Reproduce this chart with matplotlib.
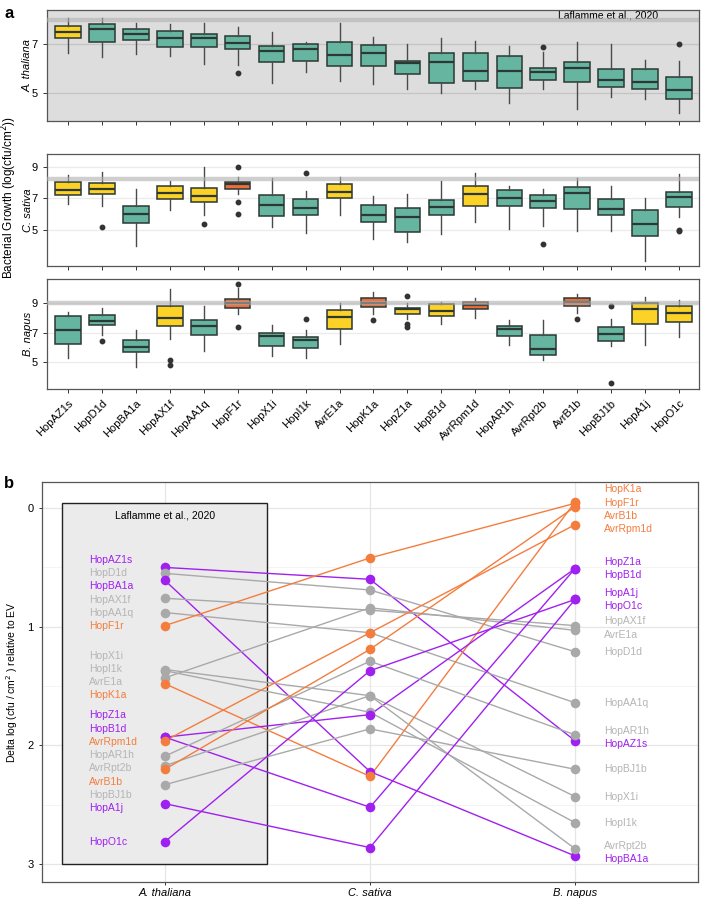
import matplotlib
matplotlib.use('Agg')
import matplotlib.pyplot as plt
from matplotlib.patches import Rectangle

plt.rcParams['font.family'] = ['Liberation Sans', 'DejaVu Sans']

effectors = ['HopAZ1s', 'HopD1d', 'HopBA1a', 'HopAX1f', 'HopAA1q', 'HopF1r', 'HopX1i',
             'HopI1k', 'AvrE1a', 'HopK1a', 'HopZ1a', 'HopB1d', 'AvrRpm1d', 'HopAR1h',
             'AvrRpt2b', 'AvrB1b', 'HopBJ1b', 'HopA1j', 'HopO1c']
hosts = ['A. thaliana', 'C. sativa', 'B. napus']

# EV growth reference per host
ev_growth = [8.0, 8.22, 9.0]

# A. thaliana boxes
at_whi = [8.07, 8.07, 7.89, 7.83, 7.89, 7.70, 7.49, 7.11, 7.86, 7.29, 7.00, 7.27, 7.14, 6.93, 6.67, 7.08, 7.00, 6.34, 6.30]
at_q3 = [7.75, 7.83, 7.62, 7.56, 7.44, 7.33, 6.93, 7.00, 7.08, 6.96, 6.33, 6.63, 6.63, 6.53, 6.04, 6.29, 5.97, 5.97, 5.64]
at_med = [7.52, 7.62, 7.41, 7.27, 7.27, 7.07, 6.72, 6.81, 6.56, 6.66, 6.22, 6.26, 5.90, 5.90, 5.85, 6.04, 5.52, 5.46, 5.12]
at_q1 = [7.27, 7.11, 7.18, 6.90, 6.88, 6.81, 6.29, 6.31, 6.12, 6.12, 5.78, 5.40, 5.51, 5.19, 5.53, 5.44, 5.25, 5.18, 4.74]
at_wlo = [6.63, 6.47, 6.59, 6.53, 6.19, 6.15, 5.42, 5.87, 5.49, 5.36, 5.15, 4.99, 5.16, 4.58, 5.15, 4.33, 4.85, 4.74, 4.17]
at_out = {5: [5.81], 14: [6.88], 18: [7.03]}

# C. sativa boxes
cs_whi = [8.50, 8.71, 7.58, 8.11, 8.99, 8.35, 8.32, 7.47, 8.35, 7.17, 7.26, 8.11, 8.64, 7.81, 7.62, 8.32, 7.77, 7.04, 8.54]
cs_q3 = [8.03, 7.98, 6.49, 7.81, 7.68, 8.07, 7.19, 6.98, 7.94, 6.59, 6.38, 6.87, 7.81, 7.55, 7.23, 7.71, 6.98, 6.23, 7.39]
cs_med = [7.53, 7.58, 6.01, 7.32, 7.17, 7.92, 6.59, 6.42, 7.43, 5.91, 5.82, 6.46, 7.26, 7.02, 6.83, 7.36, 6.31, 5.35, 7.08]
cs_q1 = [7.19, 7.26, 5.43, 6.96, 6.76, 7.58, 5.88, 5.97, 7.04, 5.46, 4.84, 5.93, 6.49, 6.53, 6.42, 6.33, 5.91, 4.62, 6.44]
cs_wlo = [6.63, 6.51, 3.96, 6.25, 5.97, 7.26, 5.14, 4.79, 5.93, 4.39, 4.21, 4.71, 5.50, 5.07, 5.24, 4.94, 4.94, 3.00, 5.78]
cs_out = {1: [5.18], 4: [5.35], 5: [9.00, 6.76, 6.01], 7: [8.64], 14: [4.11], 18: [5.00, 4.93]}

# B. napus boxes
bn_whi = [8.39, 8.64, 7.18, 9.96, 8.80, 10.01, 7.52, 7.18, 9.00, 9.76, 9.00, 9.11, 9.34, 7.83, 7.85, 9.63, 7.92, 9.40, 9.24]
bn_q3 = [8.10, 8.17, 6.51, 8.80, 7.86, 9.31, 7.00, 6.68, 8.50, 9.38, 8.66, 8.91, 9.11, 7.45, 6.85, 9.38, 7.38, 9.00, 8.80]
bn_med = [7.18, 7.81, 6.01, 7.99, 7.43, 9.00, 6.75, 6.46, 8.03, 9.00, 8.60, 8.48, 8.84, 7.22, 5.90, 9.07, 6.89, 8.60, 8.33]
bn_q1 = [6.21, 7.49, 5.67, 7.45, 6.85, 8.70, 6.10, 5.94, 7.27, 8.75, 8.26, 8.12, 8.60, 6.75, 5.50, 8.80, 6.41, 7.60, 7.69]
bn_wlo = [5.30, 6.82, 4.64, 6.58, 5.77, 8.23, 5.38, 5.30, 6.19, 8.26, 7.95, 7.60, 7.99, 6.15, 5.11, 8.32, 6.08, 6.17, 6.71]
bn_out = {1: [6.41], 3: [5.11, 4.76], 5: [10.32, 7.40], 7: [7.92], 9: [7.83], 10: [9.49, 7.60, 7.36],
          15: [7.90], 16: [8.80, 3.55]}

# box fill class: t = teal, y = yellow, o = orange
at_cls = 'y' + 't' * 18
cs_cls = 'yytyyottyttty' + 'tttttt'
bn_cls = 'tttytottyoyyottotyy'

# panel b: delta log growth relative to EV
delta_at = [0.50, 0.55, 0.61, 0.76, 0.88, 0.99, 1.36, 1.37, 1.43, 1.48, 1.93, 1.93, 1.96, 2.09, 2.17, 2.20, 2.33, 2.49, 2.81]
delta_cs = [0.60, 0.69, 2.22, 0.86, 1.05, 0.42, 1.58, 1.72, 0.84, 2.26, 2.52, 1.74, 1.05, 1.29, 1.58, 1.19, 1.86, 2.86, 1.37]
delta_bn = [1.96, 1.21, 2.93, 0.99, 1.64, -0.04, 2.43, 2.65, 1.03, -0.05, 0.51, 0.51, 0.14, 1.91, 2.87, -0.01, 2.20, 0.77, 0.77]
groups = ['p', 'g', 'p', 'g', 'g', 'o', 'g', 'g', 'g', 'o', 'p', 'p', 'o', 'g', 'g', 'o', 'g', 'p', 'p']

box_colors = {'t': '#66b5a1', 'y': '#fdd226', 'o': '#ef6d3b'}
pt_colors = {'p': '#a020f0', 'o': '#f47d3e', 'g': '#a9a9a9'}
txt_colors = {'p': '#a020f0', 'o': '#f47d3e', 'g': '#b5b5b5'}


def make_stats(wlo, q1, med, q3, whi, out):
    stats = []
    for i in range(len(med)):
        stats.append(dict(whislo=wlo[i], q1=q1[i], med=med[i], q3=q3[i], whishi=whi[i],
                          fliers=out.get(i, [])))
    return stats


def spread(vals, gap):
    # simple label repel along y
    order = sorted(range(len(vals)), key=lambda i: (vals[i], i))
    pos = [vals[i] for i in order]
    for _ in range(1000):
        moved = False
        for k in range(len(pos) - 1):
            d = pos[k + 1] - pos[k]
            if d < gap - 1e-6:
                s = (gap - d) / 2
                pos[k] -= s
                pos[k + 1] += s
                moved = True
        if not moved:
            break
    res = [0] * len(vals)
    for k, i in enumerate(order):
        res[i] = pos[k]
    return res


fig = plt.figure(figsize=(7.09, 8.98), dpi=100)

panels = [
    (at_wlo, at_q1, at_med, at_q3, at_whi, at_out, at_cls, [0.0663, 0.8653, 0.92, 0.1236], (3.85, 8.41), [5, 7]),
    (cs_wlo, cs_q1, cs_med, cs_q3, cs_whi, cs_out, cs_cls, [0.0663, 0.7038, 0.92, 0.1247], (2.67, 9.85), [5, 7, 9]),
    (bn_wlo, bn_q1, bn_med, bn_q3, bn_whi, bn_out, bn_cls, [0.0663, 0.5668, 0.92, 0.1225], (3.16, 10.64), [5, 7, 9]),
]

for k, (wlo, q1, med, q3, whi, out, cls, rect, ylim, yt) in enumerate(panels):
    ax = fig.add_axes(rect)
    stats = make_stats(wlo, q1, med, q3, whi, out)
    bp = ax.bxp(stats, positions=range(len(effectors)), widths=0.75, patch_artist=True,
                showcaps=False,
                boxprops=dict(edgecolor='#2b3833', linewidth=1.1),
                medianprops=dict(color='#2b3833', linewidth=1.6),
                whiskerprops=dict(color='#4a4a4a', linewidth=1.0),
                flierprops=dict(marker='o', markersize=3.2, markerfacecolor='#333333',
                                markeredgecolor='#333333'))
    for patch, c in zip(bp['boxes'], cls):
        patch.set_facecolor(box_colors[c])
    ax.axhline(ev_growth[k], color='#b0b0b0', lw=3.2, alpha=0.6, zorder=5)
    ax.set_xlim(-0.62, 18.6)
    ax.set_ylim(*ylim)
    ax.set_yticks(yt)
    if k == 0:
        ax.set_facecolor('#dddddd')
        for v in yt:
            ax.axhline(v, color='#c4c4c4', lw=0.9, zorder=0.5)
        ax.text(17.4, 8.2, 'Laflamme et al., 2020', fontsize=7.5, ha='right', va='center')
    else:
        for v in yt:
            ax.axhline(v, color='#ebebeb', lw=0.9, zorder=0.5)
    for s in ax.spines.values():
        s.set_color('#555555')
        s.set_linewidth(0.9)
    ax.tick_params(axis='both', labelsize=8, color='#333333', length=3, width=0.7)
    ax.set_xticks(range(len(effectors)))
    if k == 2:
        ax.set_xticklabels(effectors, rotation=45, ha='right', rotation_mode='anchor', fontsize=8)
    else:
        ax.set_xticklabels([])
    ax.set_ylabel(hosts[k], fontstyle='italic', fontsize=8)
    ax.yaxis.set_label_coords(-0.022, 0.5)

fig.text(0.0135, 0.78, 'Bacterial Growth (log(cfu/cm$^2$))', rotation=90, va='center', ha='center', fontsize=8.5)
fig.text(0.006, 0.985, 'a', fontsize=12, fontweight='bold', va='center')
fig.text(0.006, 0.462, 'b', fontsize=12, fontweight='bold', va='center')

# panel b
axb = fig.add_axes([0.0592, 0.0178, 0.9253, 0.4455])
axb.set_xlim(-0.6, 2.6)
axb.set_ylim(3.15, -0.22)
for v in [0, 1, 2, 3]:
    axb.axhline(v, color='#e6e6e6', lw=0.9, zorder=0.2)
for v in [0.5, 1.5, 2.5]:
    axb.axhline(v, color='#f2f2f2', lw=0.6, zorder=0.2)
for v in [0, 1, 2]:
    axb.axvline(v, color='#e6e6e6', lw=0.9, zorder=0.2)
axb.add_patch(Rectangle((-0.5, -0.04), 1.0, 3.04, facecolor='#ebebeb', edgecolor='#222222',
                        lw=1.0, zorder=0.5))
axb.text(0, 0.06, 'Laflamme et al., 2020', fontsize=7.5, ha='center', va='center')

for i in range(len(effectors)):
    c = pt_colors[groups[i]]
    yv = [delta_at[i], delta_cs[i], delta_bn[i]]
    axb.plot([0, 1, 2], yv, color=c, lw=1.0, zorder=2)
    axb.scatter([0, 1, 2], yv, s=48, color=c, zorder=3, linewidths=0)

lab_at = spread(delta_at, 0.112)
lab_bn = spread(delta_bn, 0.112)
for i, name in enumerate(effectors):
    tc = txt_colors[groups[i]]
    axb.text(-0.37, lab_at[i], name, color=tc, fontsize=7.5, ha='left', va='center')
    axb.text(2.14, lab_bn[i], name, color=tc, fontsize=7.5, ha='left', va='center')

axb.set_yticks([0, 1, 2, 3])
axb.set_xticks([0, 1, 2])
axb.set_xticklabels(hosts, fontstyle='italic')
axb.tick_params(axis='both', labelsize=8, color='#333333', length=2.5, width=0.7)
axb.tick_params(axis='x', pad=1.5)
for s in axb.spines.values():
    s.set_color('#555555')
    s.set_linewidth(0.9)
axb.set_ylabel('Delta log (cfu / cm$^2$ ) relative to EV', fontsize=7.5, labelpad=5)

plt.savefig('out.png', dpi=100)
